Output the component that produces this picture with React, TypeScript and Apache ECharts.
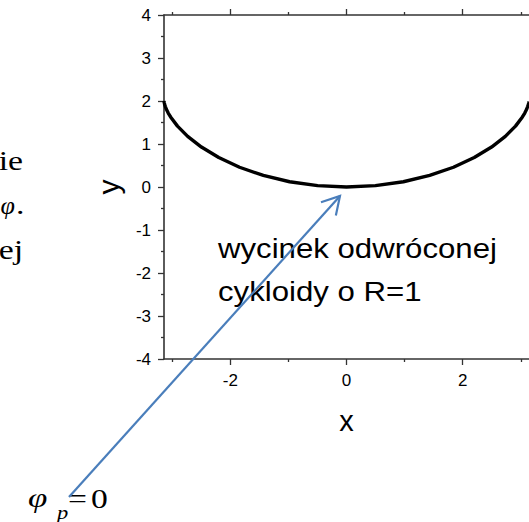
import React, { useEffect, useRef } from "react";
import * as echarts from "echarts";

// Inverted cycloid segment (R = 1)
const curveX = [
  -3.1416, -3.1411, -3.138, -3.1317, -3.1183, -3.0985, -3.0689, -3.0281, -2.9093, -2.734,
  -2.4975, -2.199, -1.8415, -1.4316, -0.9794, -0.4974, 0, 0.4974, 0.9794, 1.4316, 1.8415,
  2.199, 2.4975, 2.734, 2.9093, 3.0281, 3.0689, 3.0985, 3.1183, 3.1317, 3.138, 3.1411, 3.1416,
];
const curveY = [
  2, 1.99, 1.9646, 1.9243, 1.8698, 1.8011, 1.7202, 1.6282, 1.4161, 1.1782,
  0.9293, 0.6847, 0.4597, 0.2683, 0.1224, 0.0311, 0, 0.0311, 0.1224, 0.2683, 0.4597,
  0.6847, 0.9293, 1.1782, 1.4161, 1.6282, 1.7202, 1.8011, 1.8698, 1.9243, 1.9646, 1.99, 2,
];

const xMin = -3.1416;
const xMax = 3.1416;
const yMin = -4;
const yMax = 4;
const yInterval = 1;
const xMajorTicks = [-2, 0, 2];
const xMinorTicks = [-3, -1, 1, 3];

const xName = "x";
const yName = "y";
const noteLines = ["wycinek odwróconej", "cykloidy o R=1"];
const sideLines = ["ie", "φ", ".", "ej"];

const AXIS_COLOR = "#333";
const SANS = "'Liberation Sans', Arial, sans-serif";
const SERIF = "'Liberation Serif', 'Times New Roman', serif";
const BLUE = "#4a7ebb";

function arrowHead(tail: number[], tip: number[], len: number, angDeg: number) {
  const a = Math.atan2(tail[1] - tip[1], tail[0] - tip[0]);
  const d = (angDeg * Math.PI) / 180;
  return [
    [tip[0] + len * Math.cos(a + d), tip[1] + len * Math.sin(a + d)],
    [tip[0], tip[1]],
    [tip[0] + len * Math.cos(a - d), tip[1] + len * Math.sin(a - d)],
  ];
}

function xAxisBase(position: "top" | "bottom") {
  return {
    type: "value" as const,
    position,
    min: xMin,
    max: xMax,
    splitLine: { show: false },
    axisLine: { show: false, onZero: false },
    axisTick: { show: false },
    axisLabel: { show: false },
  };
}

function txt(x: number, y: number, text: string, font: string, align: string, sx: number) {
  return {
    type: "text",
    x,
    y,
    scaleX: sx,
    style: { text, align, verticalAlign: "middle", font, fill: "#000" },
  };
}

export default function App() {
  const ref = useRef<HTMLDivElement>(null);

  useEffect(() => {
    if (!ref.current) return;
    const chart = echarts.init(ref.current, undefined, { renderer: "svg" });
    const tail = [69, 497];
    const tip = [340, 196];

    const option = {
      animation: false,
      grid: { left: 164, top: 15, width: 370.7, height: 344, containLabel: false },
      xAxis: [
        {
          ...xAxisBase("bottom"),
          axisLine: { show: true, onZero: false, lineStyle: { color: AXIS_COLOR, width: 1.6 } },
          axisTick: {
            show: true,
            inside: false,
            length: 6,
            customValues: xMajorTicks,
            lineStyle: { color: AXIS_COLOR, width: 1.3 },
          },
          axisLabel: {
            show: true,
            customValues: xMajorTicks,
            margin: 13,
            color: "#000",
            fontSize: 17,
            fontFamily: SANS,
          },
          name: xName,
          nameLocation: "middle",
          nameGap: 47,
          nameTextStyle: { color: "#000", fontSize: 29, fontFamily: SANS },
        },
        {
          ...xAxisBase("bottom"),
          axisTick: {
            show: true,
            inside: false,
            length: 3,
            customValues: xMinorTicks,
            lineStyle: { color: AXIS_COLOR, width: 1.3 },
          },
        },
        {
          ...xAxisBase("top"),
          axisLine: { show: true, onZero: false, lineStyle: { color: AXIS_COLOR, width: 1.6 } },
          axisTick: {
            show: true,
            inside: false,
            length: 6,
            customValues: xMajorTicks,
            lineStyle: { color: AXIS_COLOR, width: 1.3 },
          },
        },
        {
          ...xAxisBase("top"),
          axisTick: {
            show: true,
            inside: false,
            length: 3,
            customValues: xMinorTicks,
            lineStyle: { color: AXIS_COLOR, width: 1.3 },
          },
        },
      ],
      yAxis: [
        {
          type: "value",
          position: "left",
          min: yMin,
          max: yMax,
          interval: yInterval,
          splitLine: { show: false },
          axisLine: { show: true, onZero: false, lineStyle: { color: AXIS_COLOR, width: 1.6 } },
          axisTick: { show: true, inside: false, length: 6, lineStyle: { color: AXIS_COLOR, width: 1.3 } },
          minorTick: { show: true, splitNumber: 2, length: 3, lineStyle: { color: AXIS_COLOR, width: 1.3 } },
          axisLabel: { margin: 13, color: "#000", fontSize: 17, fontFamily: SANS },
          name: yName,
          nameLocation: "middle",
          nameRotate: 90,
          nameGap: 41,
          nameTextStyle: { color: "#000", fontSize: 30, fontFamily: SANS },
        },
      ],
      series: [
        {
          type: "line",
          xAxisIndex: 0,
          yAxisIndex: 0,
          data: curveX.map((x, i) => [x, curveY[i]]),
          showSymbol: false,
          smooth: false,
          clip: false,
          lineStyle: { color: "#000", width: 3.4 },
        },
      ],
      graphic: [
        // partially visible paragraph at the left edge
        txt(23, 161, sideLines[0], `27px ${SERIF}`, "right", 1.25),
        txt(15, 205, sideLines[1], `italic 26px ${SERIF}`, "right", 1.0),
        txt(16, 205, sideLines[2], `27px ${SERIF}`, "left", 1.25),
        txt(23, 250, sideLines[3], `27px ${SERIF}`, "right", 1.25),
        // note
        txt(218, 249, noteLines[0], `27px ${SANS}`, "left", 1.155),
        txt(218, 292, noteLines[1], `27px ${SANS}`, "left", 1.155),
        // phi_p = 0
        txt(28, 498, "φ", `italic 28px ${SERIF}`, "left", 1.25),
        txt(57, 513, "p", `italic 18px ${SERIF}`, "left", 1.25),
        txt(68, 498, "=", `28px ${SERIF}`, "left", 1.2),
        txt(91, 498, "0", `28px ${SERIF}`, "left", 1.2),
        // arrow
        {
          type: "line",
          z: 100,
          shape: { x1: tail[0], y1: tail[1], x2: tip[0], y2: tip[1] },
          style: { stroke: BLUE, lineWidth: 2.2 },
        },
        {
          type: "polyline",
          z: 100,
          shape: { points: arrowHead(tail, tip, 20, 30) },
          style: { stroke: BLUE, lineWidth: 2.2, fill: null },
        },
      ],
    };

    chart.setOption(option as any);
    return () => chart.dispose();
  }, []);

  return (
    <div
      ref={ref}
      style={{ position: "fixed", left: 0, top: 0, width: 529, height: 522, background: "#fff", overflow: "hidden" }}
    />
  );
}
